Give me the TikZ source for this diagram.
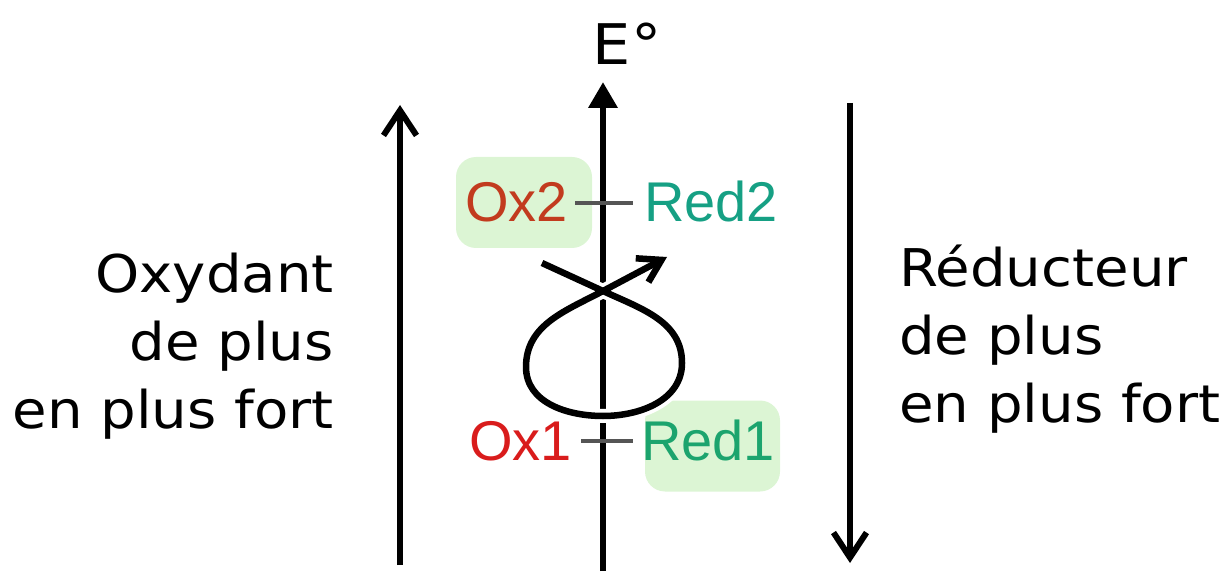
\documentclass[tikz,border=0pt]{standalone}
\usepackage{fontspec}
\usepackage{xcolor}
\usepackage{tikz}
\usetikzlibrary{arrows.meta,positioning}
\newfontfamily\verd[FakeStretch=1.08]{DejaVu Sans}
\newfontfamily\ari{Liberation Sans}
\definecolor{oxbrown}{HTML}{C23B1E}
\definecolor{oxred}{HTML}{D91C1C}
\definecolor{redteal}{HTML}{16A084}
\definecolor{redgreen}{HTML}{1CA46E}
\definecolor{lightgreen}{HTML}{DCF5D4}
\definecolor{dashgray}{HTML}{555555}

\begin{document}
\begin{tikzpicture}[x=1pt,y=1pt,>=Latex]
\tikzset{t/.style={font=\verd\fontsize{52}{68}\selectfont,inner sep=0pt}, s/.style={font=\ari\fontsize{56}{60}\selectfont,inner sep=0pt,anchor=base west}, hl/.style={fill=lightgreen,rounded corners=20pt,minimum height=91pt,inner sep=0pt}, a/.style={line width=6pt,-{Straight Barb[length=25pt,width=33pt]}}, d/.style={draw=dashgray,line width=4pt}}
\useasboundingbox (0,0) rectangle (1229,571);
% highlight boxes
\node[hl,minimum width=136pt] (ox2box) at (524,368.5) {};
\node[hl,minimum width=135pt] (red1box) at (712.5,125) {};
% potential axis
\coordinate (axbot) at (603,0); \coordinate (axtop) at (603,489);
\draw[line width=6.5pt,-{Triangle[length=26pt,width=28pt]}] (axbot) -- (axtop);
\node[font=\verd\fontsize{56}{60}\selectfont,inner sep=0pt,anchor=base] (E) at (627,506) {E°};
% couples
\node[s,text=oxbrown] (ox2) at (465,349) {Ox2};
\node[s,text=redteal] (red2) at (644,349) {Red2};
\node[s,text=oxred] (ox1) at (469,111) {Ox1};
\node[s,text=redgreen] (red1) at (641,111) {Red1};
\draw[d,shorten <=7pt,shorten >=11pt] (ox2.east) -- (ox2.east -| red2.west);
\draw[d,shorten <=9pt,shorten >=8pt] (ox1.east) -- (ox1.east -| red1.west);
% side arrows and texts
\coordinate (lab) at (400,6); \coordinate (lat) at (400,466);
\coordinate (rat) at (850,468); \coordinate (rab) at (850,8);
\draw[a] (lab) -- (lat); \draw[a] (rat) -- (rab);
\node[t,align=right,anchor=north east] (oxy) at (334,318) {Oxydant\\de plus\\en plus fort};
\node[t,align=left,anchor=north west] (redu) at (899,326) {Réducteur\\de plus\\en plus fort};
% reaction loop
\coordinate (l0) at (542,308); \coordinate (lx) at (603,280); \coordinate (lr) at (682,208);
\coordinate (lb) at (603,155); \coordinate (ll) at (526,204); \coordinate (l1) at (667,314);
\draw[line width=6.5pt,-{Straight Barb[length=22pt,width=27pt]},preaction={draw=white,line width=14pt,-}] (l0) -- (lx) to[out=-25,in=90] (lr) to[out=-90,in=0] (lb) to[out=180,in=-90] (ll) to[out=90,in=208] (lx) -- (l1);
\end{tikzpicture}
\end{document}
